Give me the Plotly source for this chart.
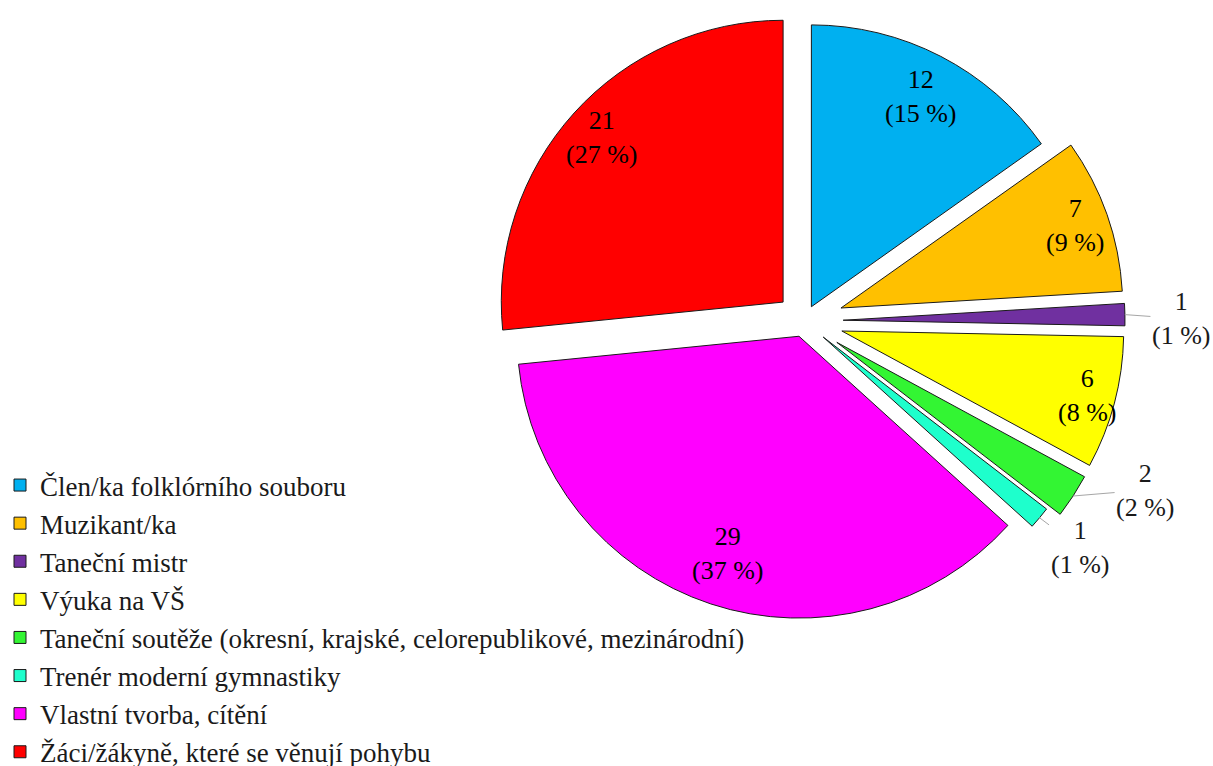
import math
import plotly.graph_objects as go

# Survey answers: where respondents draw inspiration from
categories = [
    "Člen/ka folklórního souboru",
    "Muzikant/ka",
    "Taneční mistr",
    "Výuka na VŠ",
    "Taneční soutěže (okresní, krajské, celorepublikové, mezinárodní)",
    "Trenér moderní gymnastiky",
    "Vlastní tvorba, cítění",
    "Žáci/žákyně, které se věnují pohybu",
]
counts = [12, 7, 1, 6, 2, 1, 29, 21]
percent_labels = [15, 9, 1, 8, 2, 1, 37, 27]

colors = ["#00B0F0", "#FFC000", "#7030A0", "#FFFF00",
          "#33F533", "#1EFFCC", "#FF00FF", "#FF0000"]
# exploded offsets of each slice, as a fraction of the radius
pulls = [0.057, 0.139, 0.139, 0.139, 0.139, 0.089, 0.057, 0.1]
# radial placement of the inside labels, as a fraction of the radius
label_depth = [0.84, 0.88, 1.0, 0.9, 1.0, 1.0, 0.81, 0.87]
# small slices get their label outside with a leader line (offset in px)
outside_offsets = {2: (56, 4), 4: (72, -6), 5: (40, 30)}

W, H = 1213, 766
cx, cy, half = 804, 321, 321
FONT = "Liberation Serif"

dom_x = [(cx - half) / W, (cx + half) / W]
dom_y = [1 - 2 * half / H, 1]

fig = go.Figure(go.Pie(
    labels=categories,
    values=counts,
    textinfo="none",
    sort=False,
    direction="clockwise",
    rotation=0,
    pull=pulls,
    marker=dict(colors=colors, line=dict(color="#1a1a1a", width=1)),
    domain=dict(x=dom_x, y=dom_y),
    hoverinfo="label+value",
))

# same radius rule the pie trace uses: box half-size shrunk by the largest pull
r = min((dom_x[1] - dom_x[0]) * W, (dom_y[1] - dom_y[0]) * H) / 2 / (1 + max(pulls))

total = sum(counts)
start = 0.0
for i, (c, p) in enumerate(zip(counts, percent_labels)):
    span = c / total * 360
    mid = math.radians(start + span / 2)
    start += span
    ux, uy = math.sin(mid), -math.cos(mid)
    label = f"{c}<br>({p} %)"
    dist = (pulls[i] + label_depth[i]) * r
    px, py = cx + dist * ux, cy + dist * uy
    if i in outside_offsets:
        ax, ay = outside_offsets[i]
        fig.add_annotation(
            x=px / W, y=1 - py / H, xref="paper", yref="paper",
            text=label, showarrow=True, arrowhead=0, arrowwidth=1,
            arrowcolor="#a6a6a6", standoff=0, ax=ax, ay=ay,
            xanchor="center", yanchor="middle",
            font=dict(family=FONT, size=26, color="#1a1a1a"),
        )
    else:
        fig.add_annotation(
            x=px / W, y=1 - py / H, xref="paper", yref="paper",
            text=label, showarrow=False,
            xanchor="center", yanchor="middle",
            font=dict(family=FONT, size=26, color="#000000"),
        )

fig.update_layout(
    width=W, height=H,
    margin=dict(l=0, r=0, t=0, b=0, autoexpand=False),
    paper_bgcolor="white",
    plot_bgcolor="white",
    font=dict(family=FONT, size=27, color="#1a1a1a"),
    legend=dict(
        x=0, y=1 - 461 / H, xanchor="left", yanchor="top",
        font=dict(family=FONT, size=27, color="#1a1a1a"),
        bgcolor="rgba(0,0,0,0)",
    ),
    showlegend=True,
)

fig.write_html("out.html")
